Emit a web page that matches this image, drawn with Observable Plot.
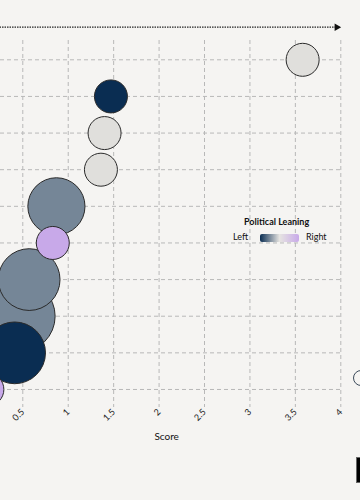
<!DOCTYPE html>
<html>
<head>
<meta charset="utf-8">
<script src="https://cdn.jsdelivr.net/npm/d3@7"></script>
<script src="https://cdn.jsdelivr.net/npm/@observablehq/plot@0.6"></script>
<style>
  html, body { margin: 0; padding: 0; background: #f5f4f2; overflow: hidden; }
  #wrap { position: relative; width: 360px; height: 500px; font-family: Lato, "Open Sans", sans-serif; }
  .lg { position: absolute; font-size: 9px; color: #111; white-space: nowrap; }
</style>
</head>
<body>
<div id="wrap"></div>
<script>
// Data (rows ordered top to bottom; names are off-screen in the reference)
const outlets = ["Outlet A","Outlet B","Outlet C","Outlet D","Outlet E","Outlet F","Outlet G","Outlet H","Outlet I","Outlet J"];
const scores  = [3.58, 1.47, 1.40, 1.36, 0.87, 0.83, 0.57, 0.46, 0.41, 0.11];
const leaning = [0, -1, 0, 0, -0.5, 1, -0.5, -0.5, -1, 1];   // -1 = Left, 1 = Right
const sizes   = [1, 1, 1, 1, 3, 1, 3.5, 4.75, 3.5, 1];
const xTicks  = [0.5, 1, 1.5, 2, 2.5, 3, 3.5, 4];
const arrowFrom = 0.2, arrowTo = 4, arrowRow = -0.89;

const data = outlets.map((name, i) => ({name, row: i, score: scores[i], leaning: leaning[i], size: sizes[i]}));

const navy = "#0a2d52", mid = "#e0dfdc", lav = "#c8a9e9";

const chart = Plot.plot({
  width: 360,
  height: 500,
  marginLeft: 0,
  marginRight: 19.7,
  marginTop: 40,
  marginBottom: 93,
  style: {background: "transparent", fontFamily: "Lato, 'Open Sans', sans-serif", fontSize: "9px", color: "#222"},
  x: {domain: [0.2546, 4.0], ticks: xTicks, label: null},
  y: {domain: [9.492, -0.527], axis: null},
  r: {type: "sqrt", domain: [0, 5], range: [0, 36.9]},
  color: {type: "linear", domain: [-1, 0, 1], range: [navy, mid, lav], interpolate: "rgb"},
  marks: [
    Plot.gridX(xTicks, {stroke: "#b8b8b8", strokeOpacity: 1, strokeDasharray: "4,3"}),
    Plot.gridY(d3.range(outlets.length), {stroke: "#b8b8b8", strokeOpacity: 1, strokeDasharray: "4,3"}),
    Plot.axisX(xTicks, {tickSize: 0, tickPadding: 3, tickRotate: -45, fontSize: 9, label: null, tickFormat: d => String(d)}),
    Plot.text(["Score"], {frameAnchor: "bottom", dy: 32, dx: -4, fontSize: 10, fill: "#111"}),
    Plot.link([0], {x1: () => arrowFrom, x2: () => arrowTo, y1: () => arrowRow, y2: () => arrowRow, dx: -1,
      stroke: "#222", strokeWidth: 1.3, strokeDasharray: "1.5,1"}),
    Plot.dot([0], {x: () => arrowTo, y: () => arrowRow, symbol: "triangle", rotate: 90, r: 2.8, dx: -4, fill: "#111", stroke: "none"}),
    Plot.dot(data, {x: "score", y: "row", r: "size", fill: "leaning", stroke: "#2a2a2a", strokeWidth: 1})
  ]
});
const wrap = document.getElementById("wrap");
chart.style.position = "absolute";
chart.style.left = "0px";
chart.style.top = "0px";
wrap.appendChild(chart);

// Legend
const lg = (html, css) => { const d = document.createElement("div"); d.className = "lg"; d.innerHTML = html; Object.assign(d.style, css); wrap.appendChild(d); return d; };
lg("Political Leaning", {left: "244px", top: "216px", fontWeight: "700", fontSize: "9px"});
lg("Left", {left: "233px", top: "231px"});
lg("", {left: "260px", top: "234px", width: "39px", height: "8px", borderRadius: "2px",
  background: `linear-gradient(to right, ${navy}, #e6e4e1, ${lav})`});
lg("Right", {left: "306px", top: "231px"});
// Decorations cut at the right edge
lg("", {left: "353px", top: "370px", width: "14px", height: "14px", borderRadius: "50%", border: "1.5px solid #3b4a5a"});
lg("", {left: "356px", top: "457px", width: "5px", height: "24px", background: "#000", border: "0.5px solid #666"});
</script>
</body>
</html>
